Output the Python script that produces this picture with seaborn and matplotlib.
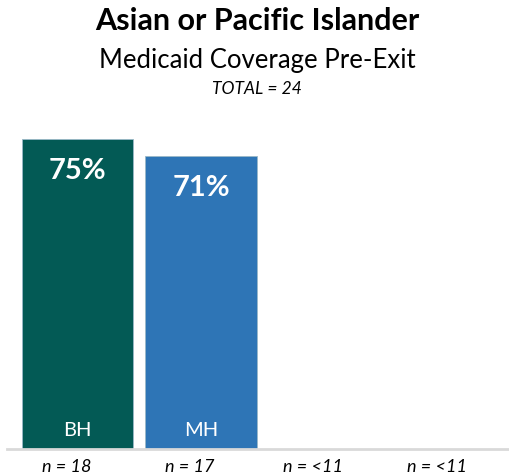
import pandas as pd
import matplotlib
matplotlib.use("Agg")
import matplotlib.pyplot as plt
import seaborn as sns

# Data
slots = ["BH", "MH", "Group 3", "Group 4"]
bar_groups = ["BH", "MH"]
bar_values = [75, 71]
n_labels = ["n = 18", "n = 17", "n = <11", "n = <11"]
colors = ["#035a55", "#2e75b6"]

sns.set_style("white")
plt.rcParams["font.family"] = ["Lato", "DejaVu Sans"]

df = pd.DataFrame({"group": bar_groups, "pct": bar_values})

fig = plt.figure(figsize=(5.09, 4.77), dpi=100)
ax = fig.add_axes([7 / 509, 27 / 477, 502 / 509, 413 / 477])

sns.barplot(data=df, x="group", y="pct", hue="group", order=slots,
            palette=colors, saturation=1, width=0.9, legend=False, ax=ax,
            edgecolor="#9ab8c8", linewidth=0.6)

ax.set_xlim(-0.571, 3.494)
ax.set_ylim(0, 100)
ax.set_xlabel("")
ax.set_ylabel("")
ax.set_xticks([])
ax.set_yticks([])
for s in ["left", "right", "top"]:
    ax.spines[s].set_visible(False)
ax.spines["bottom"].set_color("#d9d9d9")
ax.spines["bottom"].set_linewidth(2)

# labels inside the bars
for i, (g, v) in enumerate(zip(bar_groups, bar_values)):
    ax.text(i, v - 7.5, f"{v}%", ha="center", va="center",
            color="white", fontsize=21, fontweight="bold")
    ax.text(i, 4.8, g, ha="center", va="center", color="white", fontsize=14.5)

# n labels under each slot
for i, lab in enumerate(n_labels):
    ax.text(i - 0.09, -2.3, lab, ha="center", va="top", fontsize=13,
            style="italic", color="black")

fig.text(0.505, 0.956, "Asian or Pacific Islander", ha="center", va="center",
         fontsize=22, fontweight="bold", color="black")
fig.text(0.505, 0.874, "Medicaid Coverage Pre-Exit", ha="center", va="center",
         fontsize=18.5, color="black")
fig.text(0.505, 0.814, "TOTAL = 24", ha="center", va="center",
         fontsize=12.5, style="italic", color="black")

plt.savefig("out.png", dpi=100)
